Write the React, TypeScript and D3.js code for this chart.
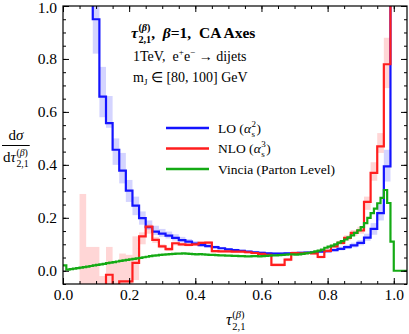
import React, { useEffect, useRef } from 'react';
import * as d3 from 'd3';

// histogram bins (left edges start at *Start, fixed width)
const binWidth = 0.02;
const loStart = 0.07;
const nloStart = 0.05;
const vinciaStart = 0;
const vinciaWidth = 0.01;

// LO (alpha_s^2), blue
const loValues = [
  1.5, 0.95, 0.658, 0.558, 0.457, 0.378, 0.303, 0.246, 0.199, 0.165,
  0.148, 0.14, 0.133, 0.124, 0.116, 0.11, 0.103, 0.097, 0.093, 0.089,
  0.085, 0.081, 0.078, 0.075, 0.072, 0.07, 0.068, 0.066, 0.065, 0.065,
  0.066, 0.067, 0.068, 0.069, 0.07, 0.072, 0.074, 0.078, 0.083, 0.089,
  0.096, 0.105, 0.125, 0.158, 0.218, 0.394, 1.5
];
const loLow = [
  1.2, 0.82, 0.58, 0.54, 0.4, 0.33, 0.26, 0.21, 0.174, 0.155,
  0.135, 0.128, 0.122, 0.114, 0.108, 0.103, 0.097, 0.092, 0.088, 0.085,
  0.081, 0.077, 0.074, 0.071, 0.068, 0.066, 0.064, 0.062, 0.061, 0.061,
  0.062, 0.063, 0.064, 0.065, 0.066, 0.068, 0.069, 0.073, 0.077, 0.082,
  0.088, 0.096, 0.113, 0.136, 0.19, 0.337, 1.2
];
const loHigh = [
  1.8, 1.1, 0.77, 0.66, 0.5, 0.445, 0.343, 0.28, 0.224, 0.19,
  0.17, 0.158, 0.148, 0.138, 0.128, 0.12, 0.112, 0.105, 0.1, 0.095,
  0.09, 0.086, 0.083, 0.08, 0.077, 0.075, 0.073, 0.071, 0.07, 0.07,
  0.071, 0.072, 0.073, 0.074, 0.075, 0.077, 0.08, 0.085, 0.091, 0.098,
  0.106, 0.116, 0.14, 0.18, 0.25, 0.457, 1.8
];

// NLO (alpha_s^3), red
const nloValues = [
  -0.2, -0.2, -0.2, -0.2, -0.015, -0.2, -0.04, -0.04, 0.03, 0.13,
  0.167, 0.117, 0.092, 0.082, 0.104, 0.1, 0.098, 0.1, 0.105, 0.106,
  0.074, 0.073, 0.073, 0.072, 0.072, 0.07, 0.067, 0.064, 0.06, 0.022,
  0.022, 0.042, 0.067, 0.066, 0.067, 0.066, 0.052, 0.075, 0.092, 0.105,
  0.124, 0.143, 0.152, 0.26, 0.37, 0.47, 0.78, 1.5
];
const nloLow = [
  -0.3, -0.3, -0.3, -0.3, -0.3, -0.3, -0.3, -0.3, -0.035, 0.1,
  0.14, 0.105, 0.085, 0.075, 0.096, 0.093, 0.092, 0.094, 0.099, 0.1,
  0.069, 0.068, 0.068, 0.067, 0.067, 0.065, 0.062, 0.059, 0.055, 0.016,
  0.016, 0.036, 0.061, 0.06, 0.061, 0.06, 0.046, 0.068, 0.085, 0.097,
  0.115, 0.132, 0.14, 0.23, 0.34, 0.445, 0.69, 1.2
];
const nloHigh = [
  0.29, 0.09, 0.09, -0.02, 0.09, 0.035, 0.065, 0.06, 0.13, 0.145,
  0.175, 0.127, 0.1, 0.09, 0.11, 0.107, 0.104, 0.106, 0.111, 0.112,
  0.079, 0.078, 0.078, 0.077, 0.077, 0.075, 0.072, 0.069, 0.065, 0.028,
  0.028, 0.048, 0.073, 0.072, 0.073, 0.072, 0.058, 0.082, 0.099, 0.113,
  0.134, 0.154, 0.166, 0.28, 0.41, 0.52, 0.88, 1.8
];

// Vincia (Parton Level), green, 0.01 bins from 0 to 1.01
const vinciaValues = [
  0.02, 0.004, 0.006, 0.008, 0.01, 0.012, 0.014, 0.016, 0.018, 0.02,
  0.022, 0.024, 0.026, 0.029, 0.031, 0.033, 0.035, 0.037, 0.039, 0.041,
  0.043, 0.045, 0.047, 0.049, 0.051, 0.053, 0.055, 0.057, 0.058, 0.06,
  0.061, 0.062, 0.063, 0.064, 0.065, 0.065, 0.066, 0.065, 0.064, 0.063,
  0.062, 0.063, 0.062, 0.061, 0.06, 0.06, 0.059, 0.058, 0.058, 0.057,
  0.057, 0.056, 0.056, 0.055, 0.055, 0.054, 0.054, 0.055, 0.055, 0.054,
  0.055, 0.056, 0.057, 0.058, 0.058, 0.059, 0.06, 0.061, 0.062, 0.062,
  0.061, 0.062, 0.064, 0.066, 0.068, 0.07, 0.073, 0.076, 0.08, 0.087,
  0.091, 0.095, 0.1, 0.106, 0.112, 0.118, 0.126, 0.134, 0.143, 0.153,
  0.165, 0.18, 0.2, 0.218, 0.235, 0.255, 0.275, 0.305, 0.256, 0.11,
  0
];

const xMajor = [0, 0.2, 0.4, 0.6, 0.8, 1.0];
const yMajor = [0, 0.2, 0.4, 0.6, 0.8, 1.0];

const serif = "'Liberation Serif', 'Times New Roman', serif";
const blue = 'rgb(20,20,255)';
const red = 'rgb(255,30,30)';
const green = 'rgb(20,170,20)';

type Piece = [string, number, boolean?];

function put(g: any, x: number, y: number, txt: string, size: number, italic = false, bold = false) {
  const t = g.append('text')
    .attr('x', x)
    .attr('y', y)
    .attr('font-family', serif)
    .attr('font-size', size)
    .attr('font-style', italic ? 'italic' : 'normal')
    .attr('font-weight', bold ? 'bold' : 'normal')
    .style('white-space', 'pre')
    .attr('fill', '#000')
    .text(txt);
  return (t.node() as SVGTextElement).getComputedTextLength();
}

function runs(g: any, x: number, y: number, pieces: Piece[], bold = false) {
  let cx = x;
  pieces.forEach(([txt, size, italic]) => {
    cx += put(g, cx, y, txt, size, !!italic, bold);
  });
  return cx - x;
}

// base symbol with stacked superscript / subscript
function scripted(g: any, x: number, y: number, base: Piece, sup: Piece[], sub: Piece[], bold = false) {
  const size = base[1];
  const w = put(g, x, y, base[0], size, !!base[2], bold);
  const w1 = runs(g, x + w + 0.5, y - size * 0.42, sup, bold);
  const w2 = runs(g, x + w + 0.5, y + size * 0.3, sub, bold);
  return w + 0.5 + Math.max(w1, w2);
}

function tau(g: any, x: number, y: number, size: number, bold = false) {
  const s = size * 0.66;
  return scripted(g, x, y, ['τ', size, true], [['(', s], ['β', s, true], [')', s]], [['2,1', s]], bold);
}

function stepPoints(start: number, width: number, values: number[], end?: number) {
  const pts: [number, number][] = values.map((v, i) => [start + i * width, v]);
  pts.push([end !== undefined ? end : start + values.length * width, values[values.length - 1]]);
  return pts;
}

export default function App() {
  const ref = useRef<SVGSVGElement>(null);

  useEffect(() => {
    const svg = d3.select(ref.current);
    svg.selectAll('*').remove();

    const x = d3.scaleLinear().domain([0, 1.04]).range([63, 407]);
    const y = d3.scaleLinear().domain([-0.05, 1.0]).range([284, 6]);
    const [x0, x1] = x.range();
    const [yb, yt] = y.range();

    svg.append('defs')
      .append('clipPath')
      .attr('id', 'plot-clip')
      .append('rect')
      .attr('x', x0)
      .attr('y', yt)
      .attr('width', x1 - x0)
      .attr('height', yb - yt);

    const plot = svg.append('g').attr('clip-path', 'url(#plot-clip)');

    // uncertainty bands
    const bands = (start: number, lo: number[], hi: number[], fill: string) => {
      plot.append('g')
        .selectAll('rect')
        .data(lo.map((l, i) => ({ a: start + i * binWidth, lo: l, hi: hi[i] })))
        .enter()
        .append('rect')
        .attr('x', (d) => x(d.a))
        .attr('width', x(binWidth) - x(0))
        .attr('y', (d) => y(d.hi))
        .attr('height', (d) => Math.max(0, y(d.lo) - y(d.hi)))
        .attr('fill', fill);
    };
    bands(loStart, loLow, loHigh, 'rgba(90,90,255,0.26)');
    bands(nloStart, nloLow, nloHigh, 'rgba(255,90,90,0.25)');

    const line = d3.line<[number, number]>()
      .x((d) => x(d[0]))
      .y((d) => y(d[1]))
      .curve(d3.curveStepAfter);

    const series = [
      { pts: stepPoints(loStart, binWidth, loValues), color: blue },
      { pts: stepPoints(nloStart, binWidth, nloValues), color: red },
      { pts: stepPoints(vinciaStart, vinciaWidth, vinciaValues, 1.04), color: green }
    ];
    series.forEach((s) => {
      plot.append('path')
        .attr('d', line(s.pts))
        .attr('fill', 'none')
        .attr('stroke', s.color)
        .attr('stroke-width', 2.2)
        .attr('stroke-linejoin', 'miter');
    });

    // axes: inward ticks on all four sides
    const xMinor = d3.range(0, 1.04, 0.05);
    const yMinor = d3.range(-0.05, 1.001, 0.05);
    const axes = svg.append('g').attr('font-family', serif);

    const addAxis = (axis: any, tx: number, ty: number) => {
      axes.append('g')
        .attr('transform', `translate(${tx},${ty})`)
        .call(axis)
        .call((g: any) => g.select('.domain').remove())
        .call((g: any) => g.selectAll('text').attr('font-family', serif).attr('font-size', 15.5).attr('fill', '#000'));
    };

    addAxis(d3.axisBottom(x).tickValues(xMinor).tickSize(-3).tickFormat(() => ''), 0, yb);
    addAxis(d3.axisBottom(x).tickValues(xMajor).tickSize(-6).tickPadding(5).tickFormat(d3.format('.1f')), 0, yb);
    addAxis(d3.axisTop(x).tickValues(xMinor).tickSize(-3).tickFormat(() => ''), 0, yt);
    addAxis(d3.axisTop(x).tickValues(xMajor).tickSize(-6).tickFormat(() => ''), 0, yt);
    addAxis(d3.axisLeft(y).tickValues(yMinor).tickSize(-3).tickFormat(() => ''), x0, 0);
    addAxis(d3.axisLeft(y).tickValues(yMajor).tickSize(-6).tickPadding(6).tickFormat(d3.format('.1f')), x0, 0);
    addAxis(d3.axisRight(y).tickValues(yMinor).tickSize(-3).tickFormat(() => ''), x1, 0);
    addAxis(d3.axisRight(y).tickValues(yMajor).tickSize(-6).tickFormat(() => ''), x1, 0);

    axes.selectAll('.tick line').attr('stroke', '#000').attr('stroke-width', 1);
    // keep the top label inside the picture
    axes.selectAll('text').filter((d: any) => d === 1.0 && true)
      .attr('dy', function () { return (this as SVGTextElement).getAttribute('x') !== null && +(this as SVGTextElement).getAttribute('x')! < 0 ? '0.42em' : (this as SVGTextElement).getAttribute('dy'); });

    svg.append('rect')
      .attr('x', x0)
      .attr('y', yt)
      .attr('width', x1 - x0)
      .attr('height', yb - yt)
      .attr('fill', 'none')
      .attr('stroke', '#000')
      .attr('stroke-width', 1.2);

    // annotations
    const txt = svg.append('g');
    const tw = tau(txt, 131, 38, 15.5, true);
    runs(txt, 131 + tw, 38, [[',  ', 15.5], ['β', 15.5, true], ['=1,  CA Axes', 15.5]], true);

    let cx = 133;
    cx += put(txt, cx, 61, '1TeV,  e', 14);
    cx += put(txt, cx, 55, '+', 9);
    cx += put(txt, cx, 61, 'e', 14);
    cx += put(txt, cx, 55, '\u2212', 9);
    put(txt, cx, 61, ' \u2192 dijets', 14);

    cx = 133;
    cx += put(txt, cx, 82, 'm', 14);
    cx += put(txt, cx, 85, 'J', 9);
    put(txt, cx, 82, ' \u2208 [80, 100] GeV', 14);

    // legend
    const legend = [
      { label: 'LO', power: '2', color: blue },
      { label: 'NLO', power: '3', color: red },
      { label: 'Vincia (Parton Level)', power: '', color: green }
    ];
    const legendY = [128, 148.5, 169];
    legend.forEach((l, i) => {
      const ly = legendY[i];
      txt.append('line')
        .attr('x1', 166).attr('x2', 209)
        .attr('y1', ly).attr('y2', ly)
        .attr('stroke', l.color)
        .attr('stroke-width', 2.5);
      const by = ly + 4.5;
      if (l.power) {
        let lx = 218;
        lx += put(txt, lx, by, l.label + ' (', 13.5);
        lx += scripted(txt, lx, by, ['α', 13.5, true], [[l.power, 9]], [['s', 9]]);
        put(txt, lx + 0.5, by, ')', 13.5);
      } else {
        put(txt, 218, by, l.label, 13.5);
      }
    });

    // axis titles
    tau(txt, 226, 325, 16);

    const num = svg.append('g');
    const numW = runs(num, 0, 140, [['d', 15], ['σ', 15, true]]);
    const dw = put(txt, 3, 162, 'd', 15);
    const denW = dw + tau(txt, 3 + dw, 162, 15);
    num.attr('transform', `translate(${3 + (denW - numW) / 2},0)`);
    txt.append('line')
      .attr('x1', 2).attr('x2', 3 + denW + 1)
      .attr('y1', 145.5).attr('y2', 145.5)
      .attr('stroke', '#000')
      .attr('stroke-width', 1);
  }, []);

  return (
    <svg
      ref={ref}
      width={409}
      height={334}
      style={{ position: 'absolute', left: 0, top: 0, background: '#fff' }}
    />
  );
}
